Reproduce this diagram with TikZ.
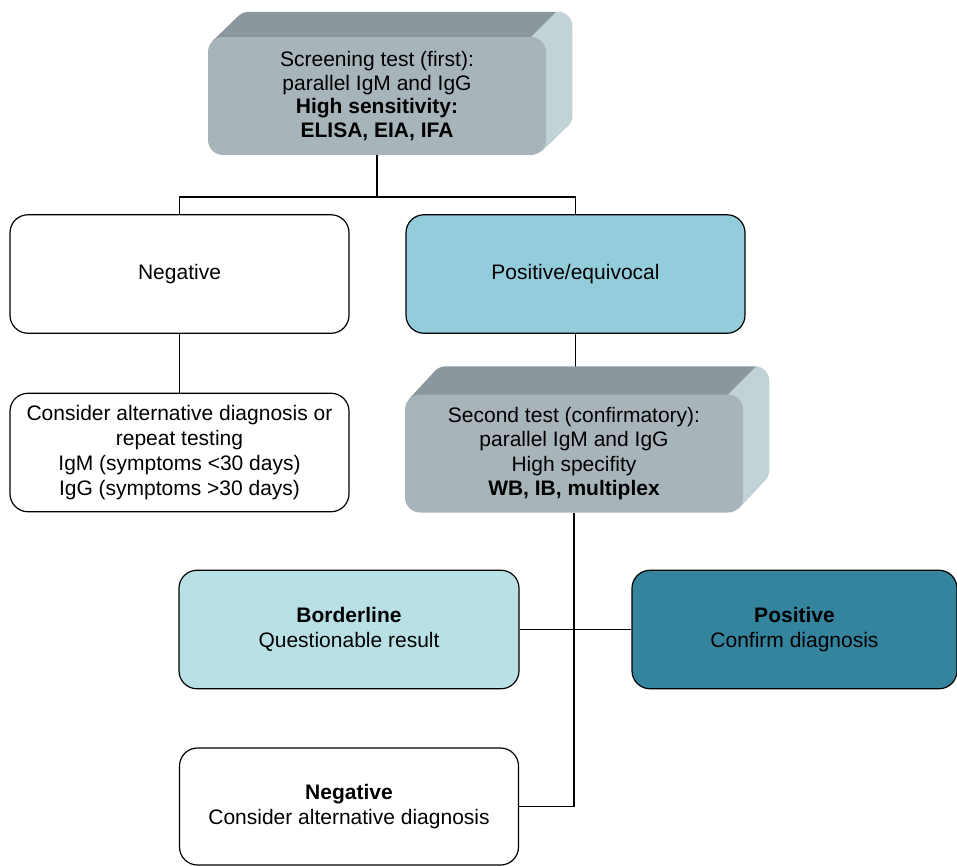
\documentclass[tikz,border=0pt]{standalone}
\usepackage{fontspec}
\setmainfont{Liberation Sans}
\usetikzlibrary{positioning}

\definecolor{frontgray}{HTML}{A7B5BA}
\definecolor{topgray}{HTML}{8A989E}
\definecolor{sidegray}{HTML}{C2D3D7}
\definecolor{equivblue}{HTML}{93CDDB}
\definecolor{borderblue}{HTML}{B9E0E5}
\definecolor{posteal}{HTML}{33849C}

\pgfdeclarelayer{background}
\pgfsetlayers{background,main}

\begin{document}
\begin{tikzpicture}[x=1pt, y=-1pt,
node distance = 178.5pt and 396pt, on grid,
every node/.style = {align=center, inner sep=0pt, font=\fontsize{21}{24.8}\selectfont},
result/.style = {draw, line width=1.2pt, rounded corners=18pt,
                 minimum width=339pt, minimum height=118.5pt},
testface/.style = {fill=frontgray, rounded corners=15pt,
                   minimum width=338pt, minimum height=118pt,
                   font=\fontsize{21}{23.6}\selectfont},
link/.style = {line width=1.5pt}
                        ]
    \useasboundingbox (0,0) rectangle (957,865);
    % screening and first results
    \node[testface] (screen) at (377,96)
        {Screening test (first):\\ parallel IgM and IgG\\
         \textbf{High sensitivity:}\\ \textbf{ELISA, EIA, IFA}};
    \node[result] (neg) at (179.5,274) {Negative};
    \node[result, fill=equivblue] (equiv) [right=of neg] {Positive/equivocal};
    \node[result] (alt) [below=of neg]
        {Consider alternative diagnosis or\\ repeat testing\\
         IgM (symptoms <30 days)\\ IgG (symptoms >30 days)};
    % confirmatory test and outcomes
    \node[testface, font=\fontsize{21}{24.5}\selectfont] (confirm) at (574,453.5)
        {Second test (confirmatory):\\ parallel IgM and IgG\\
         High specifity\\ \textbf{WB, IB, multiplex}};
    \node[result, fill=borderblue, minimum width=340pt] (border) at (349,629.5)
        {\textbf{Borderline}\\ Questionable result};
    \node[result, fill=posteal, minimum width=325pt] (posd) at (794.5,629.5)
        {\textbf{Positive}\\ Confirm diagnosis};
    \node[result, minimum height=117pt] (negb) [below=177pt of border]
        {\textbf{Negative}\\ Consider alternative diagnosis};

    \begin{pgfonlayer}{background}
        \draw[link] (equiv.south) -- (equiv.south |- confirm.north);
        \foreach \blk/\dep in {screen/25, confirm/28}{
            % extruded back part
            \fill[topgray, rounded corners=15pt]
                ([shift={(26,-\dep)}]\blk.north west) rectangle ([shift={(26,-\dep)}]\blk.south east);
            \fill[topgray]
                ([shift={(4.4,4.4)}]\blk.north west) -- ([shift={(30.4,4.4-\dep)}]\blk.north west)
                -- ([shift={(21.6,-4.4-\dep)}]\blk.south east) -- ([shift={(-4.4,-4.4)}]\blk.south east) -- cycle;
            % lighter right side
            \begin{scope}
                \clip ([shift={(-95,80)}]\blk.north east) -- ([shift={(65,-80)}]\blk.north east)
                    -- ([shift={(200,-80)}]\blk.north east) -- ([shift={(200,300)}]\blk.north east)
                    -- ([shift={(-95,300)}]\blk.north east) -- cycle;
                \fill[sidegray, rounded corners=15pt]
                    ([shift={(26,-\dep)}]\blk.north west) rectangle ([shift={(26,-\dep)}]\blk.south east);
                \fill[sidegray]
                    ([shift={(4.4,4.4)}]\blk.north west) -- ([shift={(30.4,4.4-\dep)}]\blk.north west)
                    -- ([shift={(21.6,-4.4-\dep)}]\blk.south east) -- ([shift={(-4.4,-4.4)}]\blk.south east) -- cycle;
            \end{scope}
        }
    \end{pgfonlayer}

    \coordinate (fork) at (377,197);
    \draw[link] (screen.south) -- (fork) -| (neg.north);
    \draw[link] (fork) -| (equiv.north);
    \draw[link] (neg) -- (alt);
    \draw[link] (confirm.south) -- (confirm.south |- negb.east) -- (negb.east);
    \draw[link] (border.east) -- (posd.west);
\end{tikzpicture}
\end{document}
